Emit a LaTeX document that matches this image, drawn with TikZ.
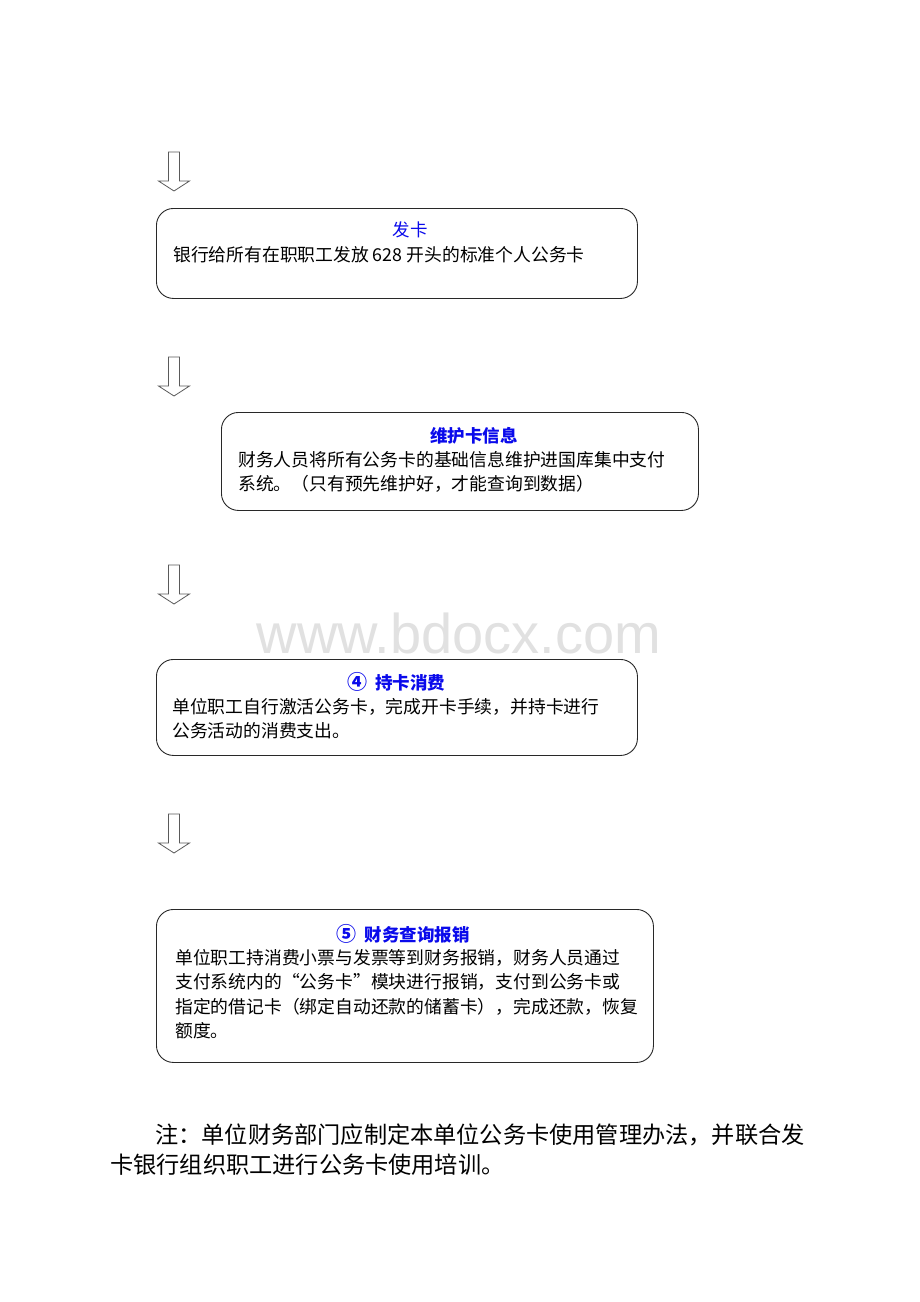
\documentclass[tikz,border=0pt]{standalone}
\usepackage{fontspec}
\newfontfamily\cjk{Noto Sans CJK SC}
\newfontfamily\wmfont{Liberation Sans}
\definecolor{ttl}{RGB}{10,10,235}
\definecolor{edge}{RGB}{40,40,40}
\definecolor{arr}{RGB}{90,90,90}
\definecolor{wm}{RGB}{225,225,225}
\tikzset{
  box/.style={draw=edge, line width=0.9pt, rounded corners=17pt, anchor=north west, inner sep=0pt},
  ttlnode/.style={anchor=base, inner sep=0pt, text=ttl, font=\cjk\fontsize{17.5}{24.3}\selectfont},
  bodynode/.style={anchor=base west, inner sep=0pt, align=left, font=\cjk\fontsize{17.8}{24.4}\selectfont},
  notenode/.style={anchor=base west, inner sep=0pt, font=\cjk\fontsize{23.2}{30}\selectfont},
  hollow/.style={draw=arr, line width=0.8pt, fill=white}
}
\newcommand{\downarr}[2]{%
  \draw[hollow] (#1-5.5,#2) -- (#1+5.5,#2) -- (#1+5.5,#2+29) -- (#1+15.5,#2+29) -- (#1,#2+39) -- (#1-15.5,#2+29) -- (#1-5.5,#2+29) -- cycle;}
\newcommand{\circnum}[1]{{\fontsize{20}{24}\selectfont #1}\hspace{8pt}}
\begin{document}
\begin{tikzpicture}[x=1pt,y=-1pt]
\useasboundingbox (0,0) rectangle (920,1302);
\fill[white] (0,0) rectangle (920,1302);
% watermark
\node[anchor=base, inner sep=0pt, text=wm, font=\wmfont\fontsize{56}{60}\selectfont] (wmark) at (459,653) {www.bdocx.com};
% arrows
\downarr{174}{152}
\downarr{174}{357}
\downarr{174}{565}
\downarr{174}{814}
% box 1
\node[box, minimum width=481pt, minimum height=90pt] (b1) at (156,208) {};
\node[ttlnode] (t1) at (410,236.5) {发卡};
\node[bodynode] (d1) at (173,261.5) {银行给所有在职职工发放 628 开头的标准个人公务卡};
% box 2
\node[box, minimum width=477pt, minimum height=98pt] (b2) at (221,412) {};
\node[ttlnode, font=\cjk\bfseries\fontsize{17.5}{24.3}\selectfont] (t2) at (474,442.5) {维护卡信息};
\node[bodynode] (d2) at (238,490.9) {财务人员将所有公务卡的基础信息维护进国库集中支付\\系统。（只有预先维护好，才能查询到数据）};
% box 3
\node[box, minimum width=481pt, minimum height=96pt] (b3) at (156,659) {};
\node[ttlnode, font=\cjk\bfseries\fontsize{17.5}{24.3}\selectfont] (t3) at (396,689.5) {\circnum{④}持卡消费};
\node[bodynode] (d3) at (172,737.9) {单位职工自行激活公务卡，完成开卡手续，并持卡进行\\公务活动的消费支出。};
% box 4
\node[box, minimum width=497pt, minimum height=153pt] (b4) at (156,909) {};
\node[ttlnode, font=\cjk\bfseries\fontsize{17.5}{24.3}\selectfont] (t4) at (403,941.5) {\circnum{⑤}财务查询报销};
\node[bodynode] (d4) at (175,1037.7) {单位职工持消费小票与发票等到财务报销，财务人员通过\\支付系统内的“公务卡”模块进行报销，支付到公务卡或\\指定的借记卡（绑定自动还款的储蓄卡），完成还款，恢复\\额度。};
% note
\node[notenode] (n1) at (155,1143.5) {注：单位财务部门应制定本单位公务卡使用管理办法，并联合发};
\node[notenode] (n2) at (110,1173.5) {卡银行组织职工进行公务卡使用培训。};
\end{tikzpicture}
\end{document}
